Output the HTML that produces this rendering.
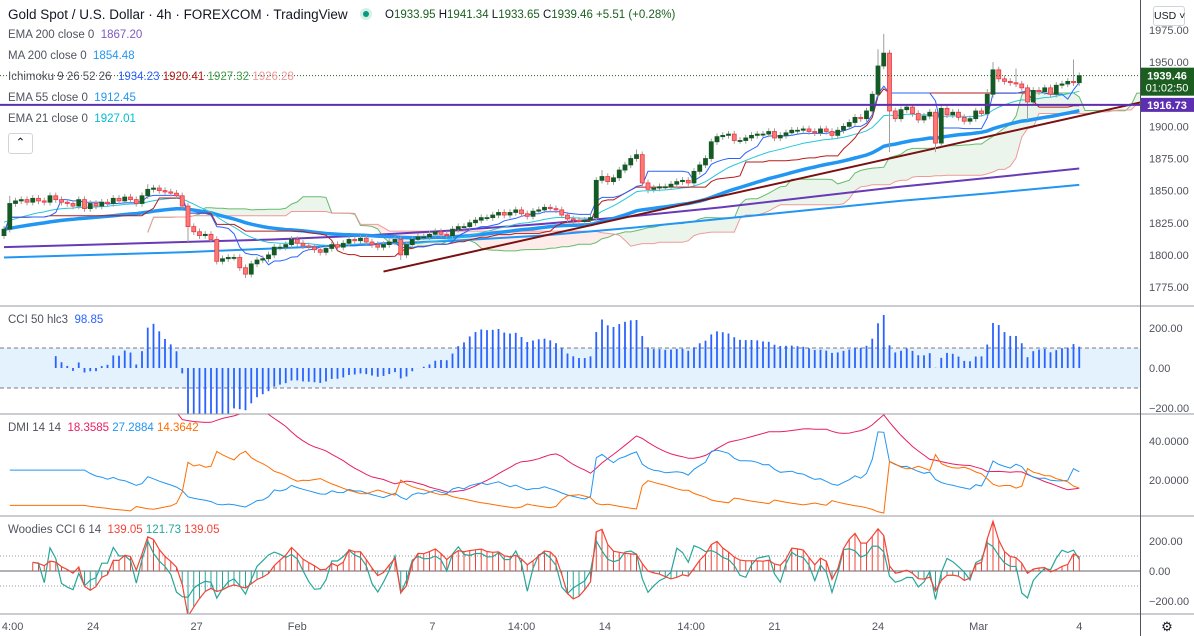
<!DOCTYPE html>
<html><head><meta charset="utf-8">
<style>
body{margin:0;background:#fff;font-family:"Liberation Sans",sans-serif;}
#wrap{position:relative;width:1194px;height:636px;overflow:hidden;}
svg{position:absolute;left:0;top:0;}
.lg{position:absolute;font-size:11.5px;color:#50535e;white-space:nowrap;}
</style></head>
<body>
<div id="wrap">
<svg id="svg" width="1194" height="636"></svg>
<div class="lg" style="left:8px;top:7px;font-size:13.5px;color:#131722">Gold Spot / U.S. Dollar · 4h · FOREXCOM · TradingView</div>
<div class="lg" style="left:360px;top:8px;width:12px;height:12px;border-radius:6px;background:#d7efe8"><div style="margin:3px;width:6px;height:6px;border-radius:3px;background:#089981"></div></div>
<div class="lg" style="left:385px;top:9px;font-size:11.5px;color:#1b5e20"><span style="color:#131722">O</span>1933.95 <span style="color:#131722">H</span>1941.34 <span style="color:#131722">L</span>1933.65 <span style="color:#131722">C</span>1939.46 +5.51 (+0.28%)</div>
<div class="lg" style="left:8px;top:29px">EMA 200 close 0 &nbsp;<span style="color:#7e57c2">1867.20</span></div>
<div class="lg" style="left:8px;top:50px">MA 200 close 0 &nbsp;<span style="color:#2196f3">1854.48</span></div>
<div class="lg" style="left:8px;top:71px">Ichimoku 9 26 52 26 &nbsp;<span style="color:#2962ff">1934.23</span> <span style="color:#b71c1c">1920.41</span> <span style="color:#43a047">1927.32</span> <span style="color:#ef9a9a">1926.28</span></div>
<div class="lg" style="left:8px;top:92px">EMA 55 close 0 &nbsp;<span style="color:#2196f3">1912.45</span></div>
<div class="lg" style="left:8px;top:113px">EMA 21 close 0 &nbsp;<span style="color:#00bcd4">1927.01</span></div>
<div class="lg" style="left:8px;top:133px;width:23px;height:19px;border:1px solid #d1d4dc;border-radius:3px;text-align:center;line-height:19px;color:#131722">&#8963;</div>
<div class="lg" style="left:8px;top:314px">CCI 50 hlc3 &nbsp;<span style="color:#2962ff">98.85</span></div>
<div class="lg" style="left:8px;top:422px">DMI 14 14 &nbsp;<span style="color:#e91e63">18.3585</span> <span style="color:#2196f3">27.2884</span> <span style="color:#ff6d00">14.3642</span></div>
<div class="lg" style="left:8px;top:524px">Woodies CCI 6 14 &nbsp;<span style="color:#f44336">139.05</span> <span style="color:#26a69a">121.73</span> <span style="color:#f44336">139.05</span></div>
<div class="lg" style="left:1153px;top:6px;width:30px;height:18px;border:1px solid #d1d4dc;border-radius:3px;font-size:10.5px;line-height:18px;text-align:center;color:#131722">USD ˅</div>
</div>
<script>
const closes=[1820,1840,
1842,1843,1841,1844,1842,1841,1846,1843,1841,1840,1838,1843,1836,1840,1838,1841,1840,1844,1842,1845,1843,1840,
1846,1851,1852,1850,1849,1848,1846,
1838,1822,1818,1815,1816,1812,
1795,1797,1798,1798,1790,1785,
1793,1796,1797,1800,1806,1806,1808,
1812,1809,1807,1806,1804,1802,1805,1808,1806,
1809,1812,1811,1813,1810,1808,1806,1808,1810,1812,
1800,1808,1812,1814,
1814,1816,1818,1816,1815,1820,1822,1822,1825,
1827,1829,1829,1831,1833,1831,1833,1835,1832,1830,1834,1835,1837,1836,1835,
1831,1828,1827,1826,1827,1829,
1858,1861,1857,1860,1866,1870,1875,1878,
1856,1851,1852,1853,1853,1855,1857,1858,1856,
1865,1870,1875,1888,1892,
1893,1894,1889,1889,1891,1893,1894,
1894,1896,1891,1893,1895,1897,1897,
1898,1896,1895,1898,1896,1893,1897,1900,1903,
1907,1906,1912,
1925,1947,1957,
1912,1906,1913,1915,1910,1905,1908,1911,
1887,
1914,1909,1911,1907,
1904,1906,1912,1910,
1925,1944,1937,
1935,1934,1933,1930,1919,
1928,1927,1930,1925,
1932,1933,1935,1934,1939.46];
const firstOpen=1815;
const wickHighs={1:1846,25:1855,104:1866,110:1882,153:1972,152:1960,171:1929,172:1950,176:1945,186:1952};
const wickLows={32:1810,42:1782,69:1796,112:1848,154:1880,162:1880,178:1905};
const ema200Pts=[1806,1808,1810,1812,1815,1819,1824,1830,1837,1845,1853,1860,1867.2];
const ma200Pts=[1798,1800,1802,1805,1808,1811,1815,1821,1828,1835,1842,1848,1854.48];
const ema21Seed=1826, ema55Seed=1820;
const lastPrice=1939.46, hLinePrice=1916.73;
const trendFrom=[66,1787], trendTo=[198,1919];
const priceTicks=[1975,1950,1925,1900,1875,1850,1825,1800,1775];
const priceTickLabels=["1975.00","1950.00","","1900.00","1875.00","1850.00","1825.00","1800.00","1775.00"];
const cciTicks=[200,0,-200];const dmiTicks=[40,20];const wTicks=[200,0,-200];
const timeLabels=["4:00","24","27","Feb","7","14:00","14","14:00","21","24","Mar","4"];
const timeIdx=[1.5,15.5,33.5,51,74.5,90,104.5,119.5,134,152,169.5,187];

const S=document.getElementById('svg');const NS='http://www.w3.org/2000/svg';
function el(t,a,p){const e=document.createElementNS(NS,t);for(const k in a)e.setAttribute(k,a[k]);(p||S).appendChild(e);return e;}
const N=closes.length;
const X=i=>4+i*5.75;
const PY=p=>30+(1975-p)*1.285;
const CY=v=>368-v*0.2;
const DY=v=>480-(v-20)*1.95;
const WY=v=>571-v*0.15;
const opens=closes.map((c,i)=>i?closes[i-1]:firstOpen);
const highs=closes.map((c,i)=>wickHighs[i]!==undefined?wickHighs[i]:Math.max(c,opens[i])+2.5);
const lows=closes.map((c,i)=>wickLows[i]!==undefined?wickLows[i]:Math.min(c,opens[i])-2.5);

const defs=el('defs',{});
[['cMain',0,0,1140,306],['cCci',0,306,1140,108],['cDmi',0,414,1140,102],['cW',0,516,1140,98]].forEach(c=>{const cp=el('clipPath',{id:c[0]},defs);el('rect',{x:c[1],y:c[2],width:c[3],height:c[4]},cp);});
const gMain=el('g',{'clip-path':'url(#cMain)'});
const gCci=el('g',{'clip-path':'url(#cCci)'});
const gDmi=el('g',{'clip-path':'url(#cDmi)'});
const gW=el('g',{'clip-path':'url(#cW)'});

function poly(vals,xf,yf,attrs,g,shift){let d='';vals.forEach((v,i)=>{if(v==null||isNaN(v))return;d+=(d?'L':'M')+xf(i+(shift||0)).toFixed(1)+' '+yf(v).toFixed(1);});const p=el('path',Object.assign({d:d,fill:'none'},attrs),g);return p;}
function ema(arr,n,seed){const k=2/(n+1);let e=seed;return arr.map(v=>e=v*k+e*(1-k));}
function midHL(i,n){let h=-1e9,l=1e9;for(let j=Math.max(0,i-n+1);j<=i;j++){h=Math.max(h,highs[j]);l=Math.min(l,lows[j]);}return (h+l)/2;}

const tenkan=closes.map((c,i)=>midHL(i,9));
const kijun=closes.map((c,i)=>midHL(i,26));
const spanA=tenkan.map((t,i)=>(t+kijun[i])/2);
const spanB=closes.map((c,i)=>midHL(i,52));
for(let i=0;i<N-1;i++){
  const x1=X(i+25),x2=X(i+26);
  const col=spanA[i]>=spanB[i]?'rgba(67,160,71,0.1)':'rgba(244,67,54,0.1)';
  const c=el('path',{d:`M${x1} ${PY(spanA[i])}L${x2} ${PY(spanA[i+1])}L${x2} ${PY(spanB[i+1])}L${x1} ${PY(spanB[i])}Z`,fill:col},gMain);
  
  
}
poly(spanA,X,PY,{stroke:'#66bb6a','stroke-width':1,},gMain,25);
poly(spanB,X,PY,{stroke:'#ef9a9a','stroke-width':1,},gMain,25);
let d='';ema200Pts.forEach((v,k)=>d+=(k?'L':'M')+X(k*(N-1)/(ema200Pts.length-1))+' '+PY(v));el('path',{d:d,fill:'none',stroke:'#673ab7','stroke-width':2,},gMain);
d='';ma200Pts.forEach((v,k)=>d+=(k?'L':'M')+X(k*(N-1)/(ma200Pts.length-1))+' '+PY(v));el('path',{d:d,fill:'none',stroke:'#2196f3','stroke-width':2,},gMain);
poly(ema(closes,55,ema55Seed),X,PY,{stroke:'#2196f3','stroke-width':3.5,},gMain);
poly(ema(closes,21,ema21Seed),X,PY,{stroke:'#26c6da','stroke-width':1,},gMain);
poly(kijun,X,PY,{stroke:'#b71c1c','stroke-width':1,},gMain);
poly(tenkan,X,PY,{stroke:'#2962ff','stroke-width':1,},gMain);
el('line',{x1:X(trendFrom[0]),y1:PY(trendFrom[1]),x2:X(trendTo[0]),y2:PY(trendTo[1]),stroke:'#7b1010','stroke-width':2,},gMain);
el('line',{x1:0,x2:1194,y1:PY(hLinePrice),y2:PY(hLinePrice),stroke:'#5b2fb0','stroke-width':2,});
el('line',{x1:0,x2:1140,y1:PY(lastPrice),y2:PY(lastPrice),stroke:'#1b5e20','stroke-width':1,'stroke-dasharray':'1 2',});
for(let i=0;i<N;i++){
  const up=closes[i]>=opens[i];const x=X(i);
  const g=el('g',{},gMain);
  
  
  el('line',{x1:x,x2:x,y1:PY(highs[i]),y2:PY(lows[i]),stroke:'#9e9e9e','stroke-width':1},g);
  const t=PY(Math.max(opens[i],closes[i])),b=PY(Math.min(opens[i],closes[i]));
  el('rect',{x:x-2,y:t,width:4,height:Math.max(1,b-t),fill:up?'#145a24':'#f77c75',stroke:up?'#145a24':'#f23645','stroke-width':0.8},g);
}
function cci(n,src,minLen){return src.map((v,i)=>{const s=Math.max(0,i-n+1);if(i-s<minLen)return null;let m=0;for(let j=s;j<=i;j++)m+=src[j];m/=(i-s+1);let md=0;for(let j=s;j<=i;j++)md+=Math.abs(src[j]-m);md/=(i-s+1);return md?(v-m)/(0.015*md):0;});}
const tp=closes.map((c,i)=>(highs[i]+lows[i]+c)/3);
const cci50=cci(50,tp,9);
el('rect',{x:0,y:CY(100),width:1140,height:CY(-100)-CY(100),fill:'#e3f2fd',},gCci);
[100,-100].forEach(v=>el('line',{x1:0,x2:1140,y1:CY(v),y2:CY(v),stroke:'#787b86','stroke-dasharray':'4 3','stroke-width':1},gCci));
cci50.forEach((v,i)=>{if(v==null)return;const b=el('line',{x1:X(i),x2:X(i),y1:CY(0),y2:CY(v),stroke:'#2962ff','stroke-width':1.8},gCci);
  
  });
let tr=[],pdm=[],mdm=[];for(let i=1;i<N;i++){tr.push(Math.max(highs[i]-lows[i],Math.abs(highs[i]-closes[i-1]),Math.abs(lows[i]-closes[i-1])));const u=highs[i]-highs[i-1],dn=lows[i-1]-lows[i];pdm.push(u>dn&&u>0?u:0);mdm.push(dn>u&&dn>0?dn:0);}
function wild(a,n){let s=a.slice(0,n).reduce((x,y)=>x+y,0)/n;return a.map((v,i)=>{if(i<n)return s;s=(s*(n-1)+v)/n;return s;});}
const str=wild(tr,14),sp=wild(pdm,14),sm=wild(mdm,14);
const pdi=sp.map((v,i)=>100*v/str[i]),mdi=sm.map((v,i)=>100*v/str[i]);
const dx=pdi.map((v,i)=>100*Math.abs(v-mdi[i])/((v+mdi[i])||1));
const adx=wild(dx.slice(13),14);
poly(adx,X,DY,{stroke:'#e91e63','stroke-width':1,},gDmi,14);
poly(pdi,X,DY,{stroke:'#2196f3','stroke-width':1,},gDmi,1);
poly(mdi,X,DY,{stroke:'#ff6d00','stroke-width':1,},gDmi,1);
const c14=cci(14,tp,5),c6=cci(6,tp,5);
[100,-100].forEach(v=>el('line',{x1:0,x2:1140,y1:WY(v),y2:WY(v),stroke:'#9598a1','stroke-dasharray':'1 2'},gW));
el('line',{x1:0,x2:1140,y1:WY(0),y2:WY(0),stroke:'#9598a1','stroke-width':1.5},gW);
c14.forEach((v,i)=>{if(v==null)return;const b=el('line',{x1:X(i),x2:X(i),y1:WY(0),y2:WY(v),stroke:v>=0?'#f44336':'#26a69a','stroke-width':1},gW);
  
  });
poly(c6,X,WY,{stroke:'#26a69a','stroke-width':1.2,},gW);
poly(c14,X,WY,{stroke:'#f44336','stroke-width':1.2,},gW);
[306,414,516,614].forEach(y=>el('line',{x1:0,x2:1194,y1:y,y2:y,stroke:'#9598a1','stroke-width':1}));
el('line',{x1:1140.5,x2:1140.5,y1:0,y2:636,stroke:'#50535e','stroke-width':1});
function lab(x,y,t,name,col,anchor){const e=el('text',{x:x,y:y,'font-size':11,fill:col||'#50535e','font-family':'Liberation Sans, sans-serif','text-anchor':anchor||'start'});e.textContent=t;return e;}
priceTicks.forEach((p,k)=>{if(priceTickLabels[k])lab(1149,PY(p)+4,priceTickLabels[k],'price-tick-label');});
cciTicks.forEach(v=>lab(1149,CY(v)+4,v.toFixed(2).replace('-','−'),'cci-tick-label'));
dmiTicks.forEach(v=>lab(1149,DY(v)+4,v.toFixed(4),'dmi-tick-label'));
wTicks.forEach(v=>lab(1149,WY(v)+4,v.toFixed(2).replace('-','−'),'woodies-tick-label'));
timeLabels.forEach((t,k)=>lab(X(timeIdx[k]),630,t,'time-axis-label','#50535e','middle'));
el('rect',{x:1141,y:PY(lastPrice)-8,width:53,height:28,fill:'#1b5e20',});
lab(1167,PY(lastPrice)+4,lastPrice.toFixed(2),'last-price-text','#fff','middle').setAttribute('font-weight','bold');
lab(1167,PY(lastPrice)+16,'01:02:50','bar-countdown','#fff','middle');
el('rect',{x:1141,y:PY(hLinePrice)-7,width:53,height:14,fill:'#5b2fb0',});
lab(1167,PY(hLinePrice)+4,hLinePrice.toFixed(2),'horizontal-line-price','#fff','middle').setAttribute('font-weight','bold');
const gear=lab(1167,631,'⚙','settings-icon','#131722','middle');gear.setAttribute('font-size',13);
</script>
</body></html>
